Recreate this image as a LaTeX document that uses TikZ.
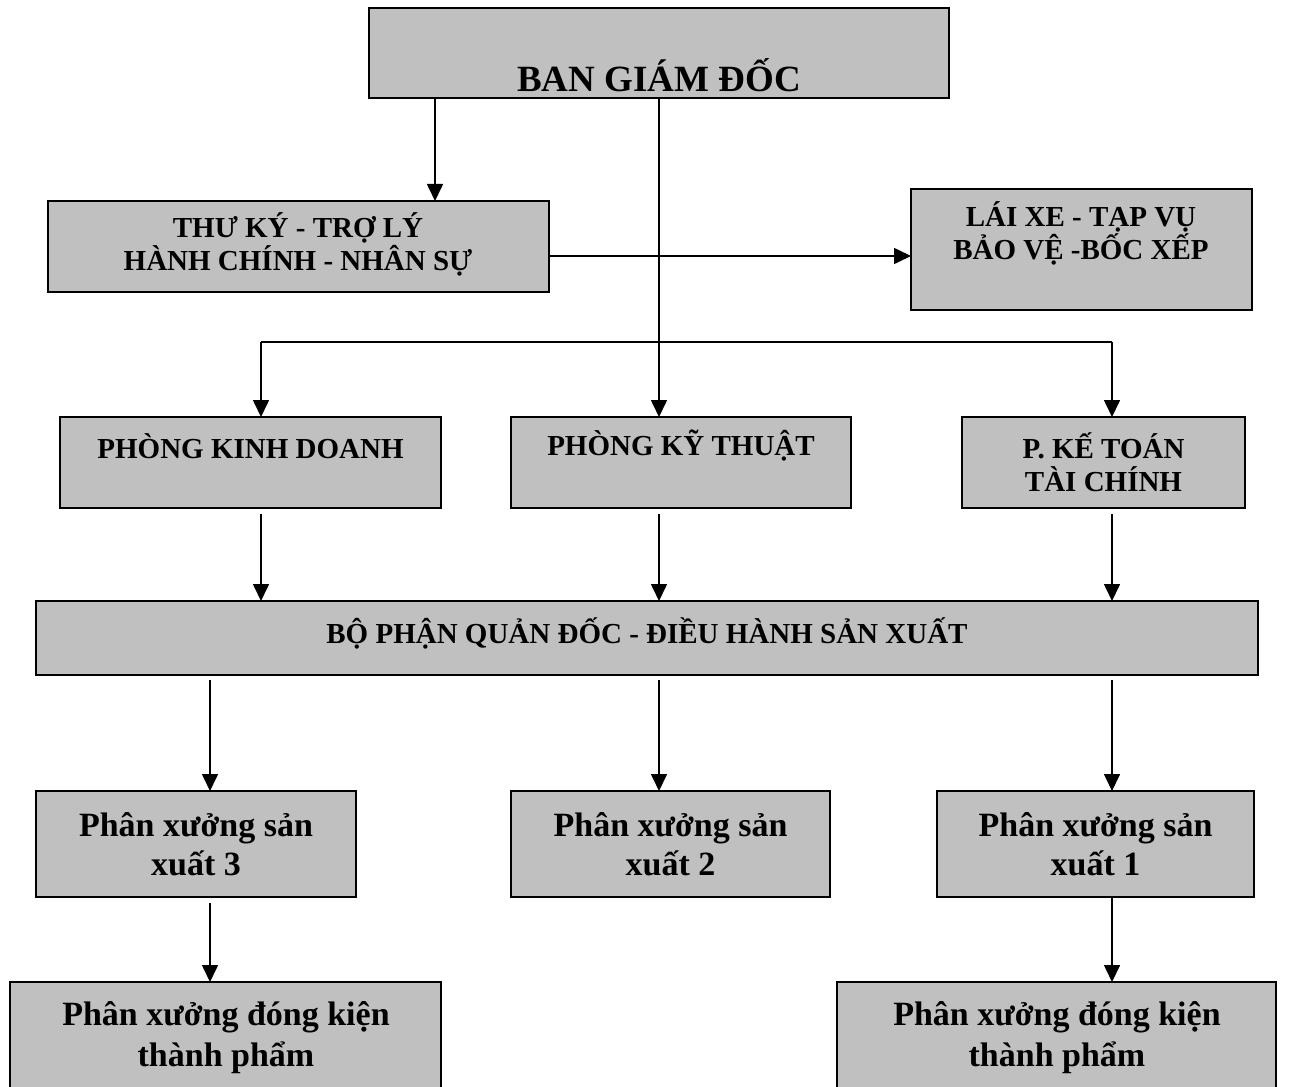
\documentclass[tikz,border=0pt]{standalone}
\usepackage{fontspec}
\setmainfont{Liberation Serif}
\usetikzlibrary{arrows.meta,calc}
\definecolor{boxgray}{RGB}{192,192,192}
\begin{document}
\begin{tikzpicture}[x=1pt,y=-1pt,
  box/.style={draw=black, line width=1.8pt, fill=boxgray, inner sep=0pt, outer sep=0pt},
  capt/.style={font=\bfseries\fontsize{29}{33}\selectfont, align=center, inner sep=0pt},
  bigt/.style={font=\bfseries\fontsize{37}{42}\selectfont, align=center, inner sep=0pt},
  lowt/.style={font=\bfseries\fontsize{34}{39}\selectfont, align=center, inner sep=0pt},
  lowb/.style={font=\bfseries\fontsize{34}{41}\selectfont, align=center, inner sep=0pt},
  arr/.style={line width=1.6pt, -{Triangle[length=17pt,width=16pt]}},
  ln/.style={line width=1.6pt}]
\useasboundingbox (0,0) rectangle (1289,1086);
\clip (0,0) rectangle (1289,1086);
\fill[white] (0,0) rectangle (1289,1086);

% boxes
\node[box, minimum width=580pt, minimum height=90pt] (ban) at (659,53) {};
\node[box, minimum width=501pt, minimum height=91pt] (thuky) at (298.5,246.5) {};
\node[box, minimum width=341pt, minimum height=121pt] (laixe) at (1081.5,249.5) {};
\node[box, minimum width=381pt, minimum height=91pt] (kd) at (250.5,462.5) {};
\node[box, minimum width=340pt, minimum height=91pt] (kt) at (681,462.5) {};
\node[box, minimum width=283pt, minimum height=91pt] (kto) at (1103.5,462.5) {};
\node[box, minimum width=1222pt, minimum height=74pt] (bp) at (647,638) {};
\node[box, minimum width=320pt, minimum height=106pt] (px3) at (196,844) {};
\node[box, minimum width=319pt, minimum height=106pt] (px2) at (670.5,844) {};
\node[box, minimum width=317pt, minimum height=106pt] (px1) at (1095.5,844) {};
\node[box, minimum width=431pt, minimum height=124pt] (dk3) at (225.5,1044) {};
\node[box, minimum width=439pt, minimum height=124pt] (dk1) at (1056.5,1044) {};

% texts
\node[bigt] (bant) at (659,75) {BAN GIÁM ĐỐC};
\node[capt] (thukyt) at (298,244) {THƯ KÝ - TRỢ LÝ\\HÀNH CHÍNH - NHÂN SỰ};
\node[capt] (laixet) at (1081,233) {LÁI XE - TẠP VỤ\\BẢO VỆ -BỐC XẾP};
\node[capt] (kdt) at (250.5,446) {PHÒNG KINH DOANH};
\node[capt] (ktt) at (681,446) {PHÒNG KỸ THUẬT};
\node[capt] (ktot) at (1103.5,462) {P. KẾ TOÁN\\TÀI CHÍNH};
\node[capt] (bpt) at (647,633) {BỘ PHẬN QUẢN ĐỐC - ĐIỀU HÀNH SẢN XUẤT};
\node[lowt] (px3t) at (196,844) {Phân xưởng sản\\xuất 3};
\node[lowt] (px2t) at (670.5,844) {Phân xưởng sản\\xuất 2};
\node[lowt] (px1t) at (1095.5,844) {Phân xưởng sản\\xuất 1};
\node[lowb] (dk3t) at (226,1038) {Phân xưởng đóng kiện\\thành phẩm};
\node[lowb] (dk1t) at (1057,1038) {Phân xưởng đóng kiện\\thành phẩm};

% helper coordinates
\coordinate (c435) at (435,0);
\coordinate (c210) at (210,0);
\coordinate (cy256) at (0,256);
\coordinate (b261) at (261,342);
\coordinate (b1112) at (1112,342);

% connectors
\draw[arr] (ban.south -| c435) -- (thuky.north -| c435);
\draw[arr] (ban.south) -- (ban.south |- kt.north);
\draw[arr] (thuky.east |- cy256) -- (laixe.west |- cy256);
\draw[ln] (b261) -- (b1112);
\draw[arr] (b261) -- (kd.north -| b261);
\draw[arr] (b1112) -- (kto.north -| b1112);

\draw[arr] ($(kd.south -| b261)+(0,6)$) -- (bp.north -| b261);
\draw[arr] ($(kt.south -| ban.south)+(0,6)$) -- (bp.north -| ban.south);
\draw[arr] ($(kto.south -| b1112)+(0,6)$) -- (bp.north -| b1112);

\draw[arr] ($(bp.south -| c210)+(0,5)$) -- (px3.north -| c210);
\draw[arr] ($(bp.south -| ban.south)+(0,5)$) -- (px2.north -| ban.south);
\draw[arr] ($(bp.south -| b1112)+(0,5)$) -- (px1.north -| b1112);

\draw[arr] ($(px3.south -| c210)+(0,6)$) -- (dk3.north -| c210);
\draw[arr] (px1.south -| b1112) -- (dk1.north -| b1112);
\end{tikzpicture}
\end{document}
